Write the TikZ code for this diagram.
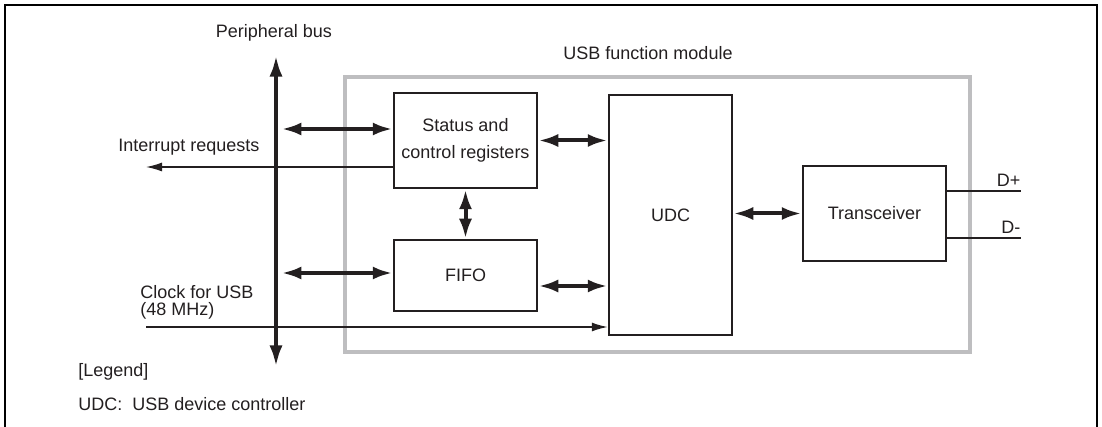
\documentclass[tikz,border=0pt]{standalone}
\usepackage{fontspec}
\setmainfont{Liberation Sans}
\usetikzlibrary{arrows.meta, positioning}
\definecolor{ink}{HTML}{231f20}
\definecolor{modgray}{HTML}{bebec0}

\begin{document}
\begin{tikzpicture}[x=0.5pt, y=-0.5pt, font=\fontsize{9}{10.8}\selectfont, color=ink]
  \tikzstyle{blk}=[rectangle, draw=ink, line width=1.25pt, minimum width=71.5pt,
                   inner sep=0pt, align=center]
  \tikzstyle{barr}=[{Latex[length=10pt,width=6.5pt]}-{Latex[length=10pt,width=6.5pt]},
                   line width=2pt]
  \tikzstyle{tarr}=[-{Latex[length=8pt,width=4.5pt]}, line width=0.7pt]
  \tikzstyle{sig}=[line width=0.7pt]
  \tikzstyle{lbl}=[inner sep=0pt]

  \useasboundingbox (0,0) rectangle (1102,427);
  \draw[line width=1.3pt, black] (5,427) -- (5,5) -- (1097,5) -- (1097,427);

  % module frame
  \node[draw=modgray, line width=2pt, minimum width=312.5pt, minimum height=137.5pt,
        inner sep=0pt](mod) at (657.5,214.5){};
  \node[lbl, anchor=base](modlbl) at (648,60){USB function module};

  % peripheral bus
  \node[minimum width=5pt, minimum height=156pt, inner sep=0pt](bus) at (276,211){};
  \draw[{Latex[length=11pt,width=6.5pt]}-{Latex[length=11pt,width=6.5pt]}, line width=2.3pt]
    (bus.south) -- (bus.north);
  \node[lbl, anchor=base](buslbl) at (274,38){Peripheral bus};

  % blocks
  \node[blk, minimum height=47.5pt](stat) at (465.5,140.5){Status and\\[2.7pt]control registers};
  \node[blk, minimum height=35.5pt](fifo) at (465.5,275.5){FIFO};
  \node[blk, minimum width=61.5pt, minimum height=120pt](udc) at (670.5,215){UDC};
  \node[blk, minimum height=47.5pt](trx) at (874.5,213.5){Transceiver};

  % bus side
  \coordinate (sB) at ([yshift=5.75pt]stat.west);
  \coordinate (fB) at ([yshift=1.25pt]fifo.west);
  \draw[barr](bus.east |- sB) -- (sB);
  \draw[barr](bus.east |- fB) -- (fB);

  \coordinate (irq) at (146,167);
  \draw[tarr]([yshift=-13.25pt]stat.west) -- (irq);
  \node[lbl, anchor=base west](irqlbl) at (118,152){Interrupt requests};

  \coordinate (clk) at (146,327);
  \draw[tarr](clk) -- (clk -| udc.west);
  \node[lbl, anchor=north west, align=left, font=\fontsize{9}{8.5}\selectfont](clklbl)
    at (140,285){Clock for USB\\(48 MHz)};

  % inside the module
  \coordinate (fU) at ([yshift=-5.25pt]fifo.east);
  \draw[barr](stat.east) -- (stat.east -| udc.west);
  \draw[barr](fU) -- (fU -| udc.west);
  \draw[barr](stat.south) -- (fifo.north);
  \draw[barr](udc.east |- trx.west) -- (trx.west);

  % USB lines
  \coordinate (dp) at (1021,191);
  \coordinate (dm) at (1021,238);
  \draw[sig](trx.east |- dp) -- (dp) node[lbl, anchor=south east, yshift=2pt](dplbl){D+};
  \draw[sig](trx.east |- dm) -- (dm) node[lbl, anchor=south east, yshift=2pt](dmlbl){D-};

  % legend
  \node[lbl, anchor=base west](leg) at (78,376){[Legend]};
  \node[lbl, anchor=base west](legudc) at (78,410){UDC:\ \ USB device controller};
\end{tikzpicture}
\end{document}
